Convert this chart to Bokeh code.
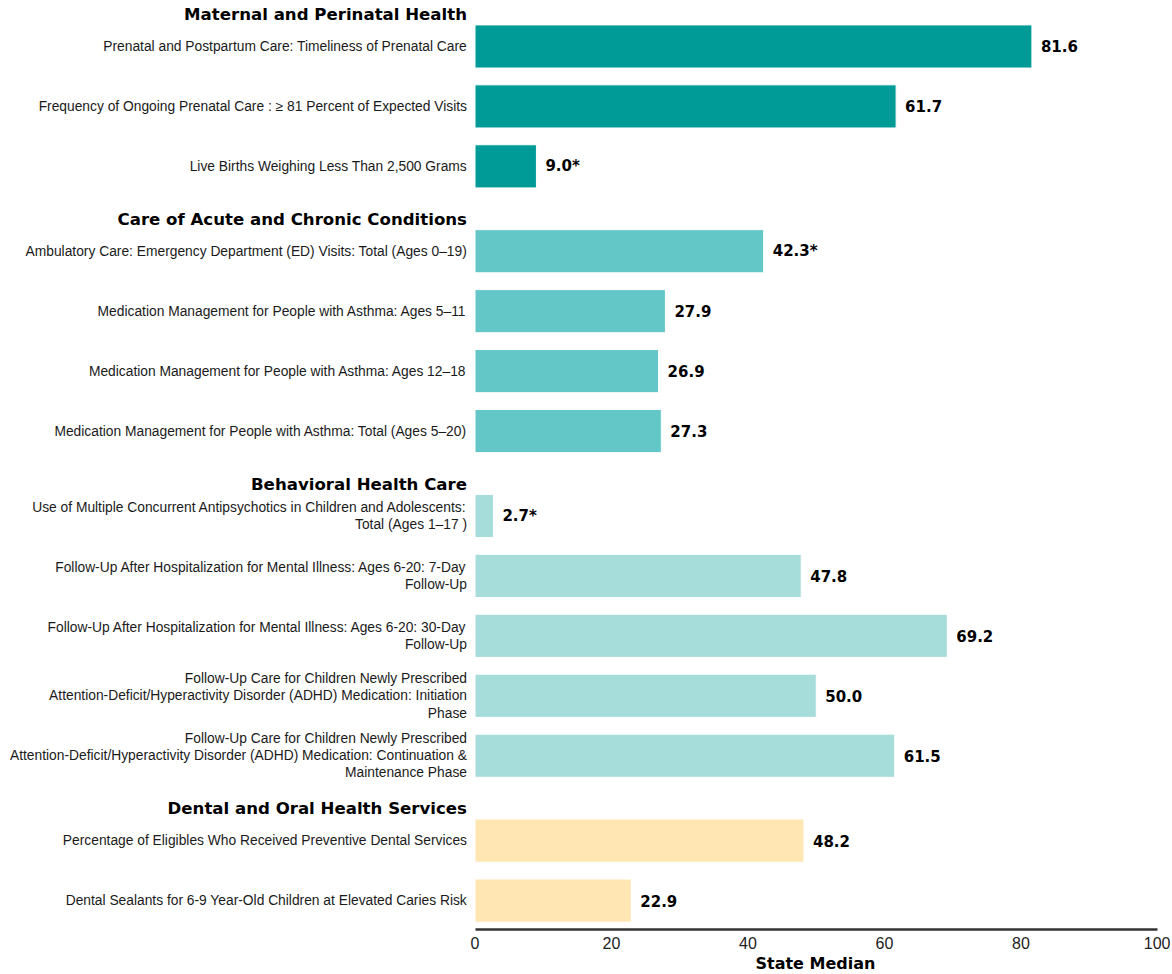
from bokeh.plotting import figure
from bokeh.models import ColumnDataSource, Range1d, FixedTicker, Title
from bokeh.core.properties import value
from bokeh.embed import file_html
from bokeh.resources import INLINE

groups = ["Maternal and Perinatal Health",
          "Care of Acute and Chronic Conditions",
          "Behavioral Health Care",
          "Dental and Oral Health Services"]

measures = [
    ["Prenatal and Postpartum Care: Timeliness of Prenatal Care",
     "Frequency of Ongoing Prenatal Care : \u2265 81 Percent of Expected Visits",
     "Live Births Weighing Less Than 2,500 Grams"],
    ["Ambulatory Care: Emergency Department (ED) Visits: Total (Ages 0\u201319)",
     "Medication Management for People with Asthma: Ages 5\u201311",
     "Medication Management for People with Asthma: Ages 12\u201318",
     "Medication Management for People with Asthma: Total (Ages 5\u201320)"],
    ["Use of Multiple Concurrent Antipsychotics in Children and Adolescents:\nTotal (Ages 1\u201317 )",
     "Follow-Up After Hospitalization for Mental Illness: Ages 6-20: 7-Day\nFollow-Up",
     "Follow-Up After Hospitalization for Mental Illness: Ages 6-20: 30-Day\nFollow-Up",
     "Follow-Up Care for Children Newly Prescribed\nAttention-Deficit/Hyperactivity Disorder (ADHD) Medication: Initiation\nPhase",
     "Follow-Up Care for Children Newly Prescribed\nAttention-Deficit/Hyperactivity Disorder (ADHD) Medication: Continuation &\nMaintenance Phase"],
    ["Percentage of Eligibles Who Received Preventive Dental Services",
     "Dental Sealants for 6-9 Year-Old Children at Elevated Caries Risk"],
]

values = [
    [81.6, 61.7, 9.0],
    [42.3, 27.9, 26.9, 27.3],
    [2.7, 47.8, 69.2, 50.0, 61.5],
    [48.2, 22.9],
]

value_labels = [
    ["81.6", "61.7", "9.0*"],
    ["42.3*", "27.9", "26.9", "27.3"],
    ["2.7*", "47.8", "69.2", "50.0", "61.5"],
    ["48.2", "22.9"],
]

group_colors = ["#009B97", "#62C7C6", "#A6DCDA", "#FFE6B3"]

x_ticks = [0, 20, 40, 60, 80, 100]

# layout positions (row units, increasing downward)
GAP = 0.4167
HEADER_OFF = -0.53
ys, xs, cols, labs, vlabs = [], [], [], [], []
hy = []
pos = 0.0
for g, grp in enumerate(groups):
    hy.append(pos + HEADER_OFF)
    for i, m in enumerate(measures[g]):
        ys.append(pos)
        xs.append(values[g][i])
        cols.append(group_colors[g])
        labs.append(m)
        vlabs.append(value_labels[g][i])
        pos += 1
    pos += GAP
last = ys[-1]

src = ColumnDataSource(dict(y=ys, x=xs, color=cols, label=labs, vlabel=vlabs,
                            zero=[0] * len(ys)))
hsrc = ColumnDataSource(dict(y=hy, x=[0] * len(hy), label=groups))

W, H = 1170, 974
FRAME_R = 1157          # right edge of frame in px
ZERO_PX = 474.5         # where 0 lies
ppu = (FRAME_R - ZERO_PX) / 100.0
x_start = -ZERO_PX / ppu

p = figure(width=W, height=H, output_backend="svg", toolbar_location=None,
           x_range=Range1d(x_start, 100), y_range=Range1d(last + 0.483, -0.767),
           min_border_left=0, min_border_right=W - FRAME_R, min_border_top=0,
           min_border_bottom=45)

p.hbar(y="y", left=0, right="x", height=0.72, color="color", line_color="white",
       line_width=1, source=src)

p.text(x="x", y="y", text="vlabel", source=src, x_offset=9,
       text_align="left", text_baseline="middle",
       text_font=value("DejaVu Sans"), text_font_style="bold",
       text_font_size="15px", text_color="black")

p.text(x="zero", y="y", text="label", source=src, x_offset=-8,
       text_align="right", text_baseline="middle",
       text_font=value("Liberation Sans"), text_font_size="13.8px",
       text_color="#1a1a1a", text_line_height=1.15)

p.text(x="x", y="y", text="label", source=hsrc, x_offset=-8,
       text_align="right", text_baseline="middle",
       text_font=value("DejaVu Sans"), text_font_style="bold",
       text_font_size="16.6px", text_color="black")

p.yaxis.visible = False
p.xgrid.visible = False
p.ygrid.visible = False
p.outline_line_color = None

ax = p.xaxis[0]
ax.bounds = (0, 100)
ax.ticker = FixedTicker(ticks=x_ticks)
ax.axis_line_width = 2.5
ax.axis_line_color = "#333333"
ax.major_tick_line_color = None
ax.minor_tick_line_color = None
ax.major_label_text_font = "Liberation Sans"
ax.major_label_text_font_size = "16px"
ax.major_label_text_color = "#222222"
ax.major_label_standoff = 1

t = Title(text="State Median", align="left", offset=755,
          text_font="DejaVu Sans", text_font_style="bold",
          text_font_size="16px", text_color="black", standoff=0)
p.add_layout(t, "below")

open("out.html", "w").write(file_html(p, INLINE))
